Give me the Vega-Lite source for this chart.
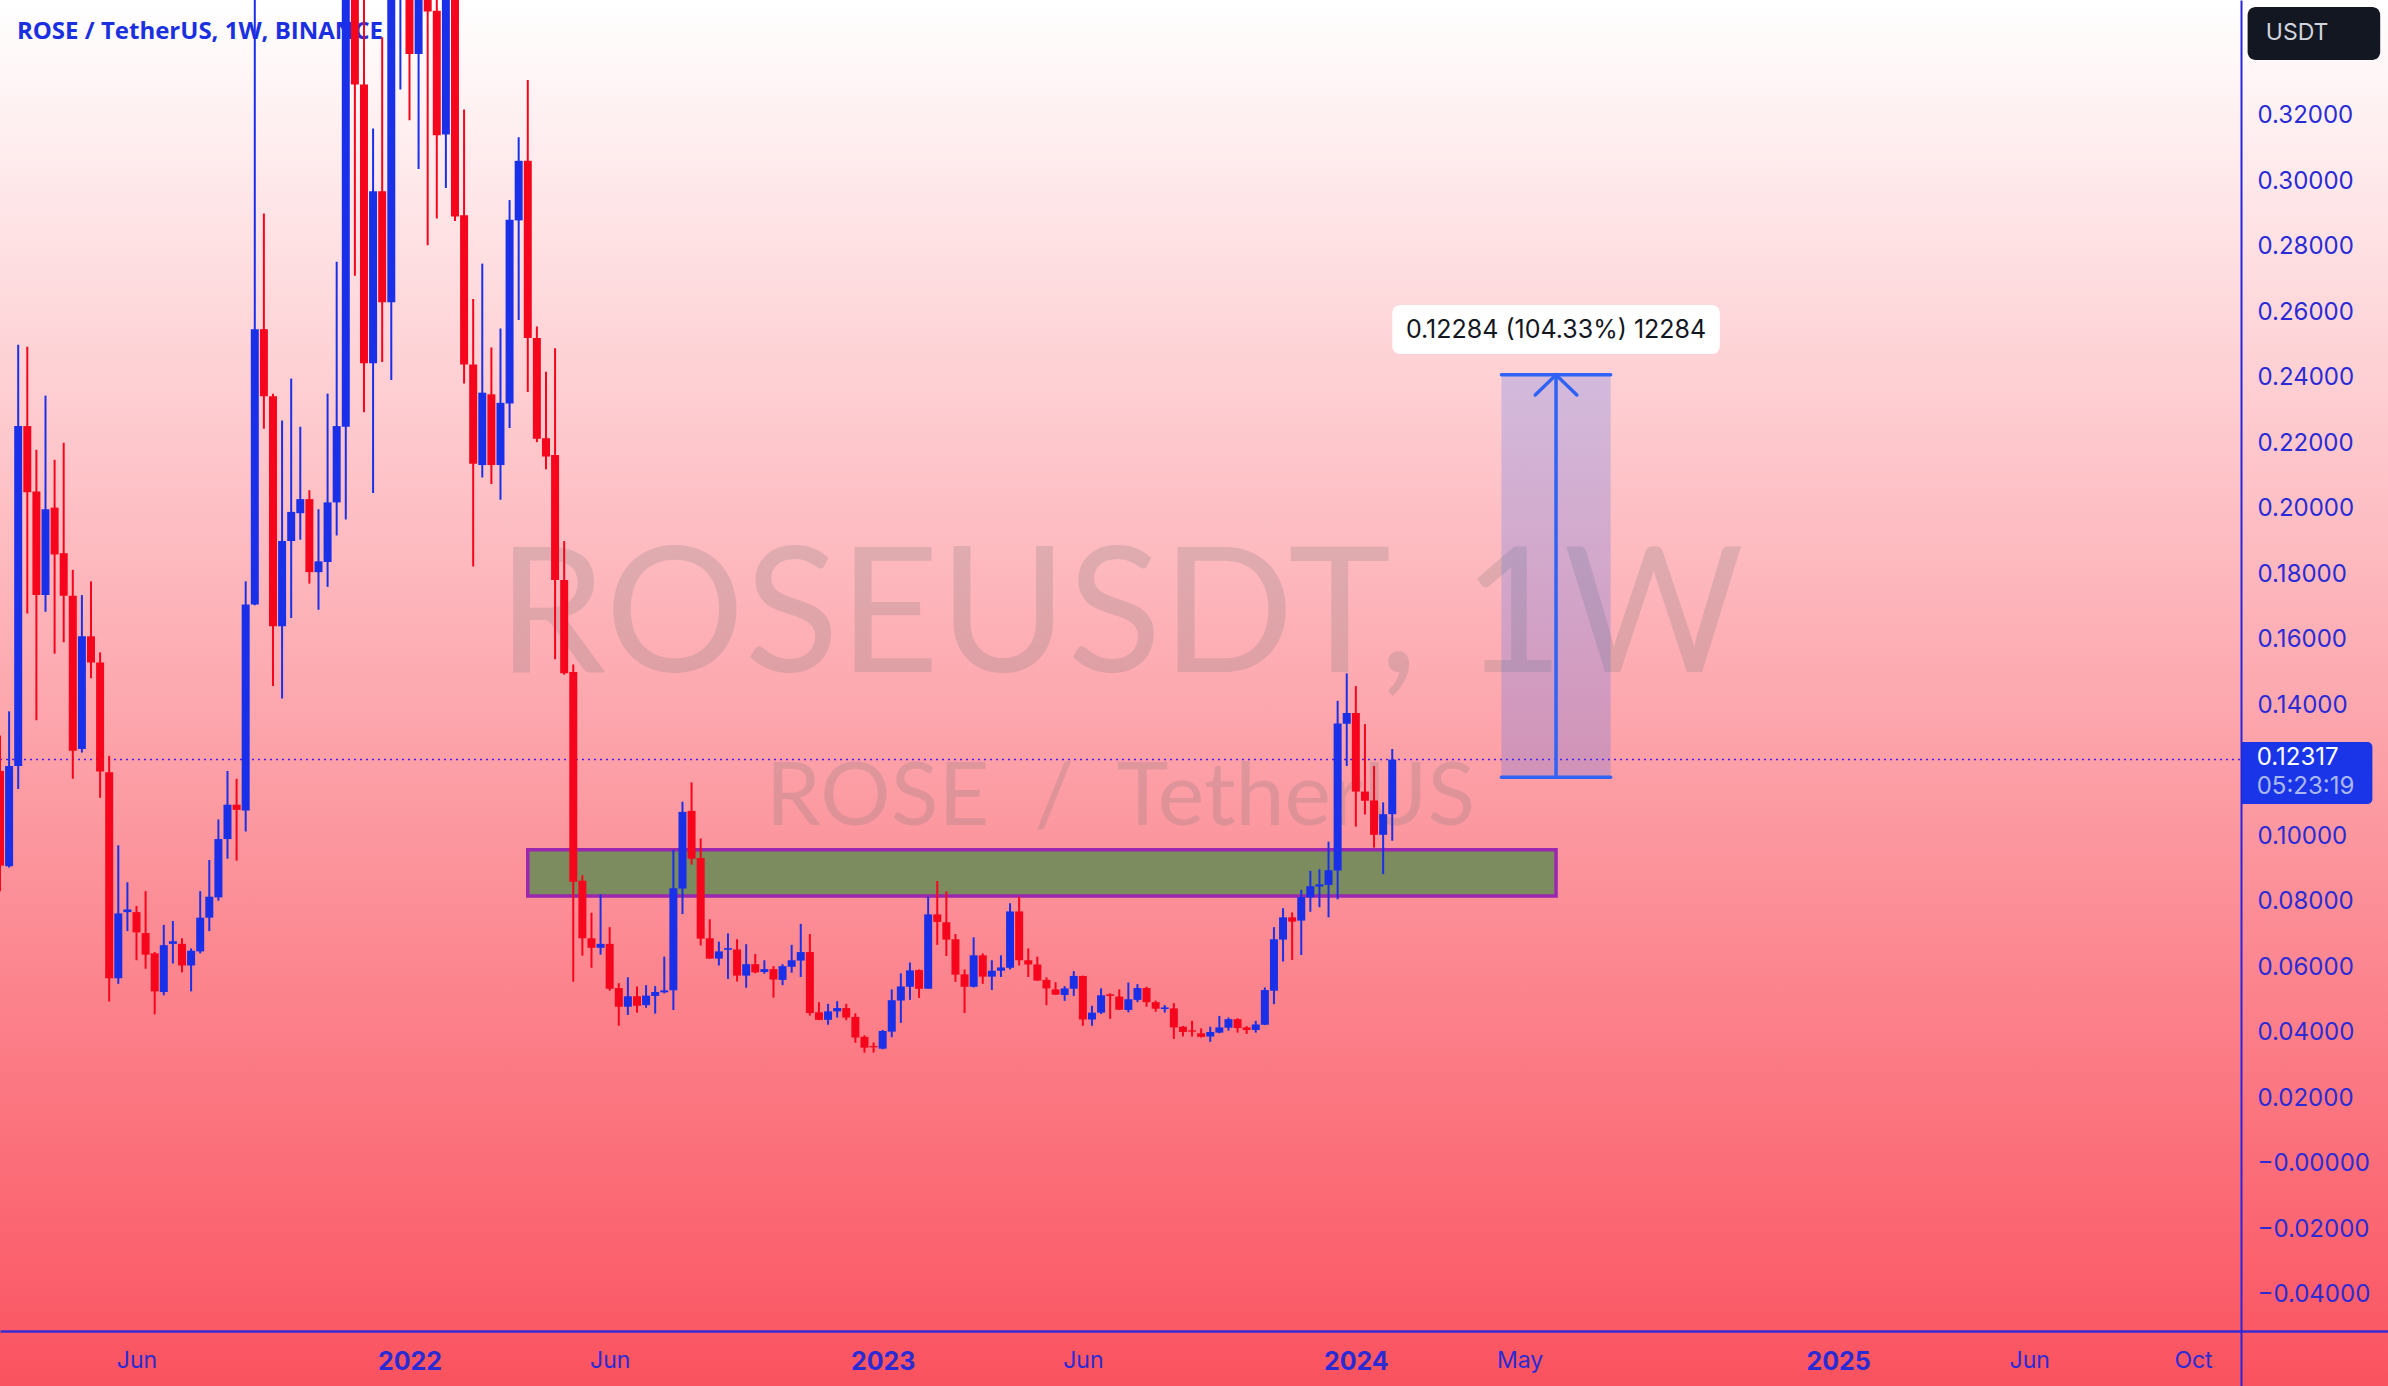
{
  "$schema": "https://vega.github.io/schema/vega-lite/v6.json",
  "width": 2388,
  "height": 1386,
  "padding": 0,
  "autosize": "none",
  "background": "#ffffff",
  "config": {"view": {"stroke": null}},
  "datasets": {
    "candles": [
      {"date":"2021-02-22","open":0.1197,"high":0.1305,"low":0.083,"close":0.0908},
      {"date":"2021-03-01","open":0.0906,"high":0.1379,"low":0.0902,"close":0.1212},
      {"date":"2021-03-08","open":0.1212,"high":0.2498,"low":0.1142,"close":0.225},
      {"date":"2021-03-15","open":0.225,"high":0.2492,"low":0.1678,"close":0.2048},
      {"date":"2021-03-22","open":0.205,"high":0.2178,"low":0.1352,"close":0.1734},
      {"date":"2021-03-29","open":0.1734,"high":0.2343,"low":0.1683,"close":0.1996},
      {"date":"2021-04-05","open":0.2001,"high":0.2147,"low":0.1555,"close":0.1858},
      {"date":"2021-04-12","open":0.1862,"high":0.2199,"low":0.159,"close":0.1732},
      {"date":"2021-04-19","open":0.1732,"high":0.1811,"low":0.1173,"close":0.1259},
      {"date":"2021-04-26","open":0.1264,"high":0.1734,"low":0.1253,"close":0.1608},
      {"date":"2021-05-03","open":0.1608,"high":0.1776,"low":0.148,"close":0.1528},
      {"date":"2021-05-10","open":0.1528,"high":0.1559,"low":0.1115,"close":0.1195},
      {"date":"2021-05-17","open":0.1193,"high":0.1243,"low":0.0493,"close":0.0564},
      {"date":"2021-05-24","open":0.0564,"high":0.097,"low":0.0547,"close":0.0762},
      {"date":"2021-05-31","open":0.0766,"high":0.0857,"low":0.0708,"close":0.0774},
      {"date":"2021-06-07","open":0.0766,"high":0.0785,"low":0.0619,"close":0.0704},
      {"date":"2021-06-14","open":0.0702,"high":0.083,"low":0.0593,"close":0.0636},
      {"date":"2021-06-21","open":0.064,"high":0.0644,"low":0.0454,"close":0.0524},
      {"date":"2021-06-28","open":0.0522,"high":0.0727,"low":0.0512,"close":0.0665},
      {"date":"2021-07-05","open":0.0669,"high":0.0739,"low":0.0609,"close":0.0677},
      {"date":"2021-07-12","open":0.0669,"high":0.0686,"low":0.0582,"close":0.0603},
      {"date":"2021-07-19","open":0.0603,"high":0.0655,"low":0.0524,"close":0.0648},
      {"date":"2021-07-26","open":0.0646,"high":0.083,"low":0.064,"close":0.0749},
      {"date":"2021-08-02","open":0.0749,"high":0.0925,"low":0.0708,"close":0.0813},
      {"date":"2021-08-09","open":0.0811,"high":0.1049,"low":0.0801,"close":0.0989},
      {"date":"2021-08-16","open":0.0989,"high":0.1197,"low":0.0929,"close":0.1094},
      {"date":"2021-08-23","open":0.1094,"high":0.1173,"low":0.0923,"close":0.1078},
      {"date":"2021-08-30","open":0.1076,"high":0.1776,"low":0.1012,"close":0.1705},
      {"date":"2021-09-06","open":0.1705,"high":0.4,"low":0.1703,"close":0.2546},
      {"date":"2021-09-13","open":0.2546,"high":0.2899,"low":0.2242,"close":0.2341},
      {"date":"2021-09-20","open":0.2341,"high":0.2349,"low":0.1456,"close":0.1639},
      {"date":"2021-09-27","open":0.1639,"high":0.2267,"low":0.1418,"close":0.1899},
      {"date":"2021-10-04","open":0.1899,"high":0.2395,"low":0.1664,"close":0.1988},
      {"date":"2021-10-11","open":0.1984,"high":0.2248,"low":0.1903,"close":0.2027},
      {"date":"2021-10-18","open":0.2027,"high":0.2054,"low":0.1769,"close":0.1804},
      {"date":"2021-10-25","open":0.1804,"high":0.1996,"low":0.1689,"close":0.1837},
      {"date":"2021-11-01","open":0.1835,"high":0.2349,"low":0.1759,"close":0.2017},
      {"date":"2021-11-08","open":0.2017,"high":0.2752,"low":0.1916,"close":0.225},
      {"date":"2021-11-15","open":0.2248,"high":0.42,"low":0.1965,"close":0.38},
      {"date":"2021-11-22","open":0.38,"high":0.45,"low":0.2709,"close":0.3293},
      {"date":"2021-11-29","open":0.3293,"high":0.37,"low":0.2292,"close":0.2442},
      {"date":"2021-12-06","open":0.2442,"high":0.3159,"low":0.2046,"close":0.2967},
      {"date":"2021-12-13","open":0.2967,"high":0.3437,"low":0.2446,"close":0.2628},
      {"date":"2021-12-20","open":0.2628,"high":0.46,"low":0.2391,"close":0.4},
      {"date":"2021-12-27","open":0.38,"high":0.45,"low":0.3278,"close":0.42},
      {"date":"2022-01-03","open":0.4,"high":0.44,"low":0.3184,"close":0.3386},
      {"date":"2022-01-10","open":0.3386,"high":0.42,"low":0.3035,"close":0.4},
      {"date":"2022-01-17","open":0.4,"high":0.42,"low":0.2802,"close":0.3516},
      {"date":"2022-01-24","open":0.3518,"high":0.37,"low":0.2884,"close":0.3138},
      {"date":"2022-01-31","open":0.314,"high":0.4,"low":0.2977,"close":0.38},
      {"date":"2022-02-07","open":0.38,"high":0.4,"low":0.2876,"close":0.289},
      {"date":"2022-02-14","open":0.2894,"high":0.3217,"low":0.238,"close":0.2438},
      {"date":"2022-02-21","open":0.2438,"high":0.2638,"low":0.1821,"close":0.2135},
      {"date":"2022-02-28","open":0.2131,"high":0.2746,"low":0.2093,"close":0.2352},
      {"date":"2022-03-07","open":0.2347,"high":0.249,"low":0.2073,"close":0.2131},
      {"date":"2022-03-14","open":0.2131,"high":0.2548,"low":0.2025,"close":0.2321},
      {"date":"2022-03-21","open":0.2319,"high":0.294,"low":0.2244,"close":0.288},
      {"date":"2022-03-28","open":0.2878,"high":0.3132,"low":0.2574,"close":0.306},
      {"date":"2022-04-04","open":0.306,"high":0.3307,"low":0.2354,"close":0.2519},
      {"date":"2022-04-11","open":0.2519,"high":0.2554,"low":0.2201,"close":0.2211},
      {"date":"2022-04-18","open":0.2213,"high":0.2416,"low":0.2118,"close":0.2157},
      {"date":"2022-04-25","open":0.2162,"high":0.2488,"low":0.1538,"close":0.178},
      {"date":"2022-05-02","open":0.178,"high":0.1899,"low":0.1491,"close":0.1495},
      {"date":"2022-05-09","open":0.1499,"high":0.1522,"low":0.0553,"close":0.0859},
      {"date":"2022-05-16","open":0.0862,"high":0.0879,"low":0.0633,"close":0.0686},
      {"date":"2022-05-23","open":0.0686,"high":0.0764,"low":0.0596,"close":0.0657},
      {"date":"2022-05-30","open":0.0657,"high":0.082,"low":0.0636,"close":0.0669},
      {"date":"2022-06-06","open":0.0669,"high":0.072,"low":0.0526,"close":0.0532},
      {"date":"2022-06-13","open":0.0534,"high":0.0549,"low":0.0419,"close":0.0477},
      {"date":"2022-06-20","open":0.0477,"high":0.0567,"low":0.0452,"close":0.0509},
      {"date":"2022-06-27","open":0.0509,"high":0.0539,"low":0.0459,"close":0.048},
      {"date":"2022-07-04","open":0.0482,"high":0.0543,"low":0.0474,"close":0.0511},
      {"date":"2022-07-11","open":0.051,"high":0.054,"low":0.0456,"close":0.0522},
      {"date":"2022-07-18","open":0.0521,"high":0.063,"low":0.0518,"close":0.0527},
      {"date":"2022-07-25","open":0.0527,"high":0.0956,"low":0.0467,"close":0.0839},
      {"date":"2022-08-01","open":0.0838,"high":0.1103,"low":0.076,"close":0.1072},
      {"date":"2022-08-08","open":0.1075,"high":0.1162,"low":0.0911,"close":0.0929},
      {"date":"2022-08-15","open":0.0931,"high":0.0991,"low":0.0664,"close":0.0685},
      {"date":"2022-08-22","open":0.0686,"high":0.0744,"low":0.0623,"close":0.0624},
      {"date":"2022-08-29","open":0.0624,"high":0.0676,"low":0.0603,"close":0.0646},
      {"date":"2022-09-05","open":0.0651,"high":0.0701,"low":0.0562,"close":0.0656},
      {"date":"2022-09-12","open":0.0652,"high":0.0683,"low":0.0554,"close":0.0572},
      {"date":"2022-09-19","open":0.0572,"high":0.0668,"low":0.0535,"close":0.0607},
      {"date":"2022-09-26","open":0.0607,"high":0.0638,"low":0.0579,"close":0.0582},
      {"date":"2022-10-03","open":0.0583,"high":0.0619,"low":0.0578,"close":0.0592},
      {"date":"2022-10-10","open":0.0592,"high":0.0601,"low":0.0505,"close":0.056},
      {"date":"2022-10-17","open":0.0559,"high":0.0607,"low":0.0543,"close":0.0601},
      {"date":"2022-10-24","open":0.0599,"high":0.0666,"low":0.0581,"close":0.0619},
      {"date":"2022-10-31","open":0.0618,"high":0.073,"low":0.0568,"close":0.0644},
      {"date":"2022-11-07","open":0.0644,"high":0.0699,"low":0.045,"close":0.0458},
      {"date":"2022-11-14","open":0.046,"high":0.0491,"low":0.0436,"close":0.0437},
      {"date":"2022-11-21","open":0.0437,"high":0.0486,"low":0.0422,"close":0.0463},
      {"date":"2022-11-28","open":0.0463,"high":0.0494,"low":0.0444,"close":0.0473},
      {"date":"2022-12-05","open":0.0473,"high":0.0486,"low":0.0436,"close":0.0444},
      {"date":"2022-12-12","open":0.0446,"high":0.0457,"low":0.0367,"close":0.0383},
      {"date":"2022-12-19","open":0.0385,"high":0.039,"low":0.0337,"close":0.0352},
      {"date":"2022-12-26","open":0.0357,"high":0.0368,"low":0.0337,"close":0.0353},
      {"date":"2023-01-02","open":0.0349,"high":0.0406,"low":0.0347,"close":0.0403},
      {"date":"2023-01-09","open":0.0401,"high":0.053,"low":0.0384,"close":0.0497},
      {"date":"2023-01-16","open":0.0496,"high":0.0579,"low":0.0428,"close":0.0539},
      {"date":"2023-01-23","open":0.0538,"high":0.0612,"low":0.0498,"close":0.0588},
      {"date":"2023-01-30","open":0.0589,"high":0.0591,"low":0.0504,"close":0.0532},
      {"date":"2023-02-06","open":0.0532,"high":0.0813,"low":0.0532,"close":0.0759},
      {"date":"2023-02-13","open":0.0759,"high":0.0861,"low":0.0666,"close":0.0736},
      {"date":"2023-02-20","open":0.0735,"high":0.0829,"low":0.0632,"close":0.0682},
      {"date":"2023-02-27","open":0.0683,"high":0.0699,"low":0.0553,"close":0.0575},
      {"date":"2023-03-06","open":0.0576,"high":0.0591,"low":0.0458,"close":0.0538},
      {"date":"2023-03-13","open":0.0538,"high":0.0689,"low":0.0536,"close":0.0634},
      {"date":"2023-03-20","open":0.0634,"high":0.064,"low":0.0547,"close":0.0569},
      {"date":"2023-03-27","open":0.0569,"high":0.0619,"low":0.0528,"close":0.0587},
      {"date":"2023-04-03","open":0.0587,"high":0.0634,"low":0.0568,"close":0.0597},
      {"date":"2023-04-10","open":0.0596,"high":0.0793,"low":0.0591,"close":0.0768},
      {"date":"2023-04-17","open":0.0768,"high":0.0813,"low":0.0603,"close":0.0619},
      {"date":"2023-04-24","open":0.0619,"high":0.0655,"low":0.0568,"close":0.0606},
      {"date":"2023-05-01","open":0.0606,"high":0.063,"low":0.0556,"close":0.0557},
      {"date":"2023-05-08","open":0.0559,"high":0.0567,"low":0.0482,"close":0.0533},
      {"date":"2023-05-15","open":0.053,"high":0.0552,"low":0.0513,"close":0.0514},
      {"date":"2023-05-22","open":0.0513,"high":0.054,"low":0.0495,"close":0.0533},
      {"date":"2023-05-29","open":0.0532,"high":0.0586,"low":0.051,"close":0.0571},
      {"date":"2023-06-05","open":0.0571,"high":0.0572,"low":0.0419,"close":0.0438},
      {"date":"2023-06-12","open":0.0438,"high":0.048,"low":0.0419,"close":0.0459},
      {"date":"2023-06-19","open":0.0459,"high":0.0533,"low":0.0455,"close":0.0512},
      {"date":"2023-06-26","open":0.0515,"high":0.0518,"low":0.044,"close":0.051},
      {"date":"2023-07-03","open":0.0508,"high":0.053,"low":0.0467,"close":0.0468},
      {"date":"2023-07-10","open":0.0467,"high":0.0551,"low":0.046,"close":0.05},
      {"date":"2023-07-17","open":0.0498,"high":0.0546,"low":0.0491,"close":0.0534},
      {"date":"2023-07-24","open":0.0534,"high":0.0538,"low":0.0477,"close":0.0491},
      {"date":"2023-07-31","open":0.0491,"high":0.0496,"low":0.0462,"close":0.0471},
      {"date":"2023-08-07","open":0.047,"high":0.0482,"low":0.0459,"close":0.0475},
      {"date":"2023-08-14","open":0.0472,"high":0.0488,"low":0.0379,"close":0.0414},
      {"date":"2023-08-21","open":0.0416,"high":0.0418,"low":0.0386,"close":0.04},
      {"date":"2023-08-28","open":0.0405,"high":0.0434,"low":0.0386,"close":0.0401},
      {"date":"2023-09-04","open":0.0396,"high":0.0411,"low":0.0383,"close":0.0385},
      {"date":"2023-09-11","open":0.0386,"high":0.0416,"low":0.037,"close":0.04},
      {"date":"2023-09-18","open":0.0398,"high":0.0449,"low":0.0396,"close":0.0414},
      {"date":"2023-09-25","open":0.0413,"high":0.0444,"low":0.0404,"close":0.0439},
      {"date":"2023-10-02","open":0.0439,"high":0.0442,"low":0.0398,"close":0.0412},
      {"date":"2023-10-09","open":0.0414,"high":0.0418,"low":0.0394,"close":0.0406},
      {"date":"2023-10-16","open":0.0406,"high":0.0434,"low":0.0398,"close":0.0423},
      {"date":"2023-10-23","open":0.0422,"high":0.0536,"low":0.0421,"close":0.0528},
      {"date":"2023-10-30","open":0.0526,"high":0.072,"low":0.0485,"close":0.0683},
      {"date":"2023-11-06","open":0.0682,"high":0.0778,"low":0.0615,"close":0.075},
      {"date":"2023-11-13","open":0.075,"high":0.0765,"low":0.062,"close":0.0737},
      {"date":"2023-11-20","open":0.074,"high":0.0834,"low":0.0635,"close":0.0812},
      {"date":"2023-11-27","open":0.0811,"high":0.0892,"low":0.0767,"close":0.0845},
      {"date":"2023-12-04","open":0.0844,"high":0.0897,"low":0.0781,"close":0.0851},
      {"date":"2023-12-11","open":0.0849,"high":0.0981,"low":0.075,"close":0.0894},
      {"date":"2023-12-18","open":0.0893,"high":0.1411,"low":0.0805,"close":0.1342},
      {"date":"2023-12-25","open":0.1341,"high":0.1495,"low":0.1212,"close":0.1374},
      {"date":"2024-01-01","open":0.1374,"high":0.1456,"low":0.1027,"close":0.1134},
      {"date":"2024-01-08","open":0.1134,"high":0.134,"low":0.1064,"close":0.1106},
      {"date":"2024-01-15","open":0.1107,"high":0.1212,"low":0.0963,"close":0.1002},
      {"date":"2024-01-22","open":0.1002,"high":0.1101,"low":0.0882,"close":0.1065},
      {"date":"2024-01-29","open":0.1065,"high":0.1264,"low":0.0984,"close":0.12317}
    ]
  },
  "encoding": {
    "x": {
      "field": "date",
      "type": "temporal",
      "title": null,
      "scale": {"type": "utc", "domain": ["2021-02-22", "2026-03-05"], "nice": false, "padding": 0},
      "axis": {
        "orient": "bottom",
        "offset": -55,
        "zindex": 1,
        "grid": false,
        "ticks": false,
        "domainColor": "#3a2bd0",
        "domainWidth": 2.5,
        "labelColor": "#2b2bd6",
        "labelFont": "Inter",
        "labelFontSize": {"condition": {"test": "utcmonth(datum.value) == 0", "value": 25}, "value": 23},
        "labelFontWeight": {"condition": {"test": "utcmonth(datum.value) == 0", "value": "bold"}, "value": "normal"},
        "labelPadding": 18,
        "labelOverlap": false,
        "labelFlush": false,
        "labelBound": false,
        "values": ["2021-06-07", "2022-01-03", "2022-06-06", "2023-01-02", "2023-06-05", "2024-01-01", "2024-05-06", "2025-01-06", "2025-06-02", "2025-10-06"],
        "labelExpr": "utcmonth(datum.value) == 0 ? utcFormat(datum.value, '%Y') : utcFormat(datum.value, '%b')"
      }
    },
    "y": {
      "field": "price",
      "type": "quantitative",
      "title": null,
      "scale": {"domain": [-0.0681, 0.3551], "nice": false, "zero": false},
      "axis": {
        "orient": "right",
        "offset": -147,
        "zindex": 1,
        "grid": false,
        "ticks": false,
        "domainColor": "#2626dd",
        "domainWidth": 2,
        "labelColor": "#2b2bd6",
        "labelFont": "Inter",
        "labelFontSize": 24,
        "labelPadding": 16,
        "labelOffset": 1,
        "labelOverlap": false,
        "labelBound": false,
        "values": [-0.04, -0.02, 0, 0.02, 0.04, 0.06, 0.08, 0.1, 0.14, 0.16, 0.18, 0.2, 0.22, 0.24, 0.26, 0.28, 0.3, 0.32],
        "labelExpr": "datum.value <= 0 ? '\u2212' + format(abs(datum.value), '.5f') : format(datum.value, '.5f')"
      }
    }
  },
  "layer": [
    {
      "data": {"values": [{"date": "2021-02-22", "date2": "2026-03-05", "price": 0.3551, "price2": -0.0681}]},
      "mark": {"type": "rect", "fill": {"gradient": "linear", "x1": 0, "y1": 0, "x2": 0, "y2": 1, "stops": [{"offset": 0, "color": "#ffffff"}, {"offset": 1, "color": "#fa525f"}]}},
      "encoding": {"x2": {"field": "date2"}, "y2": {"field": "price2"}}
    },
    {
      "data": {"values": [{"date": "2023-07-04", "price": 0.1499, "label": "ROSEUSDT, 1W"}]},
      "mark": {"type": "text", "font": "Lato", "fontSize": 174, "align": "center", "baseline": "alphabetic", "color": "#787878", "opacity": 0.22},
      "encoding": {"text": {"field": "label"}}
    },
    {
      "data": {"values": [{"date": "2023-07-04", "price": 0.1032, "label": "ROSE\u00a0\u00a0/\u00a0\u00a0TetherUS"}]},
      "mark": {"type": "text", "font": "Lato", "fontSize": 88, "align": "center", "baseline": "alphabetic", "color": "#787878", "opacity": 0.22},
      "encoding": {"text": {"field": "label"}}
    },
    {
      "data": {"values": [{"date": "2021-03-07", "price": 0.3453, "label": "ROSE / TetherUS, 1W, BINANCE"}]},
      "mark": {"type": "text", "font": "Open Sans", "fontWeight": "bold", "fontSize": 24, "align": "left", "baseline": "middle", "color": "#1a30e0"},
      "encoding": {"text": {"field": "label"}}
    },
    {
      "data": {"values": [{"date": "2021-02-22", "date2": "2025-11-12", "price": 0.12317}]},
      "mark": {"type": "rule", "color": "#4a18e8", "strokeWidth": 1.5, "strokeDash": [2, 4]},
      "encoding": {"x2": {"field": "date2"}}
    },
    {
      "data": {"values": [{"date": "2022-04-04", "date2": "2024-06-03", "price": 0.0956, "price2": 0.0815}]},
      "mark": {"type": "rect", "fill": "#7d8c5e", "stroke": "#9b27af", "strokeWidth": 3.5},
      "encoding": {"x2": {"field": "date2"}, "y2": {"field": "price2"}}
    },
    {
      "data": {"values": [{"date": "2024-04-22", "date2": "2024-07-15", "price": 0.24064, "price2": 0.1178}]},
      "mark": {"type": "rect", "fill": "#2962ff", "opacity": 0.2},
      "encoding": {"x2": {"field": "date2"}, "y2": {"field": "price2"}}
    },
    {
      "data": {"values": [{"date": "2024-04-22", "date2": "2024-07-15", "price": 0.24064}, {"date": "2024-04-22", "date2": "2024-07-15", "price": 0.1178}]},
      "mark": {"type": "rule", "color": "#2f62f5", "strokeWidth": 3.5, "strokeCap": "round"},
      "encoding": {"x2": {"field": "date2"}}
    },
    {
      "data": {"values": [{"date": "2024-06-03", "price": 0.24064, "price2": 0.1178}]},
      "mark": {"type": "rule", "color": "#2f62f5", "strokeWidth": 3.5},
      "encoding": {"y2": {"field": "price2"}}
    },
    {
      "data": {"values": [{"date": "2024-05-18", "price": 0.2345}, {"date": "2024-06-03", "price": 0.24064}, {"date": "2024-06-19", "price": 0.2345}]},
      "mark": {"type": "line", "color": "#2f62f5", "strokeWidth": 3.5, "strokeCap": "round"}
    },
    {
      "data": {"name": "candles"},
      "mark": {"type": "rule", "strokeWidth": 2},
      "encoding": {
        "y": {"field": "high", "type": "quantitative"},
        "y2": {"field": "low"},
        "color": {"condition": {"test": "datum.close >= datum.open", "value": "#1a30e8"}, "value": "#f5061d"}
      }
    },
    {
      "data": {"name": "candles"},
      "mark": {"type": "bar", "orient": "vertical", "size": 8},
      "encoding": {
        "y": {"field": "open", "type": "quantitative"},
        "y2": {"field": "close"},
        "color": {"condition": {"test": "datum.close >= datum.open", "value": "#1a30e8"}, "value": "#f5061d"}
      }
    },
    {
      "data": {"values": [{"date": "2024-01-29", "date2": "2024-10-07", "price": 0.262, "price2": 0.247}]},
      "mark": {"type": "rect", "fill": "#ffffff", "cornerRadius": 8},
      "encoding": {"x2": {"field": "date2"}, "y2": {"field": "price2"}}
    },
    {
      "data": {"values": [{"date": "2024-06-03", "price": 0.2542, "label": "0.12284 (104.33%) 12284"}]},
      "mark": {"type": "text", "font": "Inter", "fontSize": 25, "align": "center", "baseline": "middle", "color": "#131722"},
      "encoding": {"text": {"field": "label"}}
    },
    {
      "data": {"values": [{"date": "2025-11-17", "date2": "2026-02-27", "price": 0.353, "price2": 0.3368}]},
      "mark": {"type": "rect", "fill": "#131722", "cornerRadius": 8},
      "encoding": {"x2": {"field": "date2"}, "y2": {"field": "price2"}}
    },
    {
      "data": {"values": [{"date": "2025-12-01", "price": 0.345, "label": "USDT"}]},
      "mark": {"type": "text", "font": "Inter", "fontSize": 23, "align": "left", "baseline": "middle", "color": "#d1d4dc"},
      "encoding": {"text": {"field": "label"}}
    },
    {
      "data": {"values": [{"date": "2025-11-12", "date2": "2026-02-21", "price": 0.12855, "price2": 0.10962}]},
      "mark": {"type": "rect", "fill": "#1a35e8", "cornerRadiusTopRight": 5, "cornerRadiusBottomRight": 5},
      "encoding": {"x2": {"field": "date2"}, "y2": {"field": "price2"}}
    },
    {
      "data": {"values": [{"date": "2025-11-24", "price": 0.12366, "label": "0.12317"}]},
      "mark": {"type": "text", "font": "Inter", "fontSize": 24, "align": "left", "baseline": "middle", "color": "#ffffff"},
      "encoding": {"text": {"field": "label"}}
    },
    {
      "data": {"values": [{"date": "2025-11-24", "price": 0.11481, "label": "05:23:19"}]},
      "mark": {"type": "text", "font": "Inter", "fontSize": 24, "align": "left", "baseline": "middle", "color": "#aab8f2"},
      "encoding": {"text": {"field": "label"}}
    }
  ]
}
